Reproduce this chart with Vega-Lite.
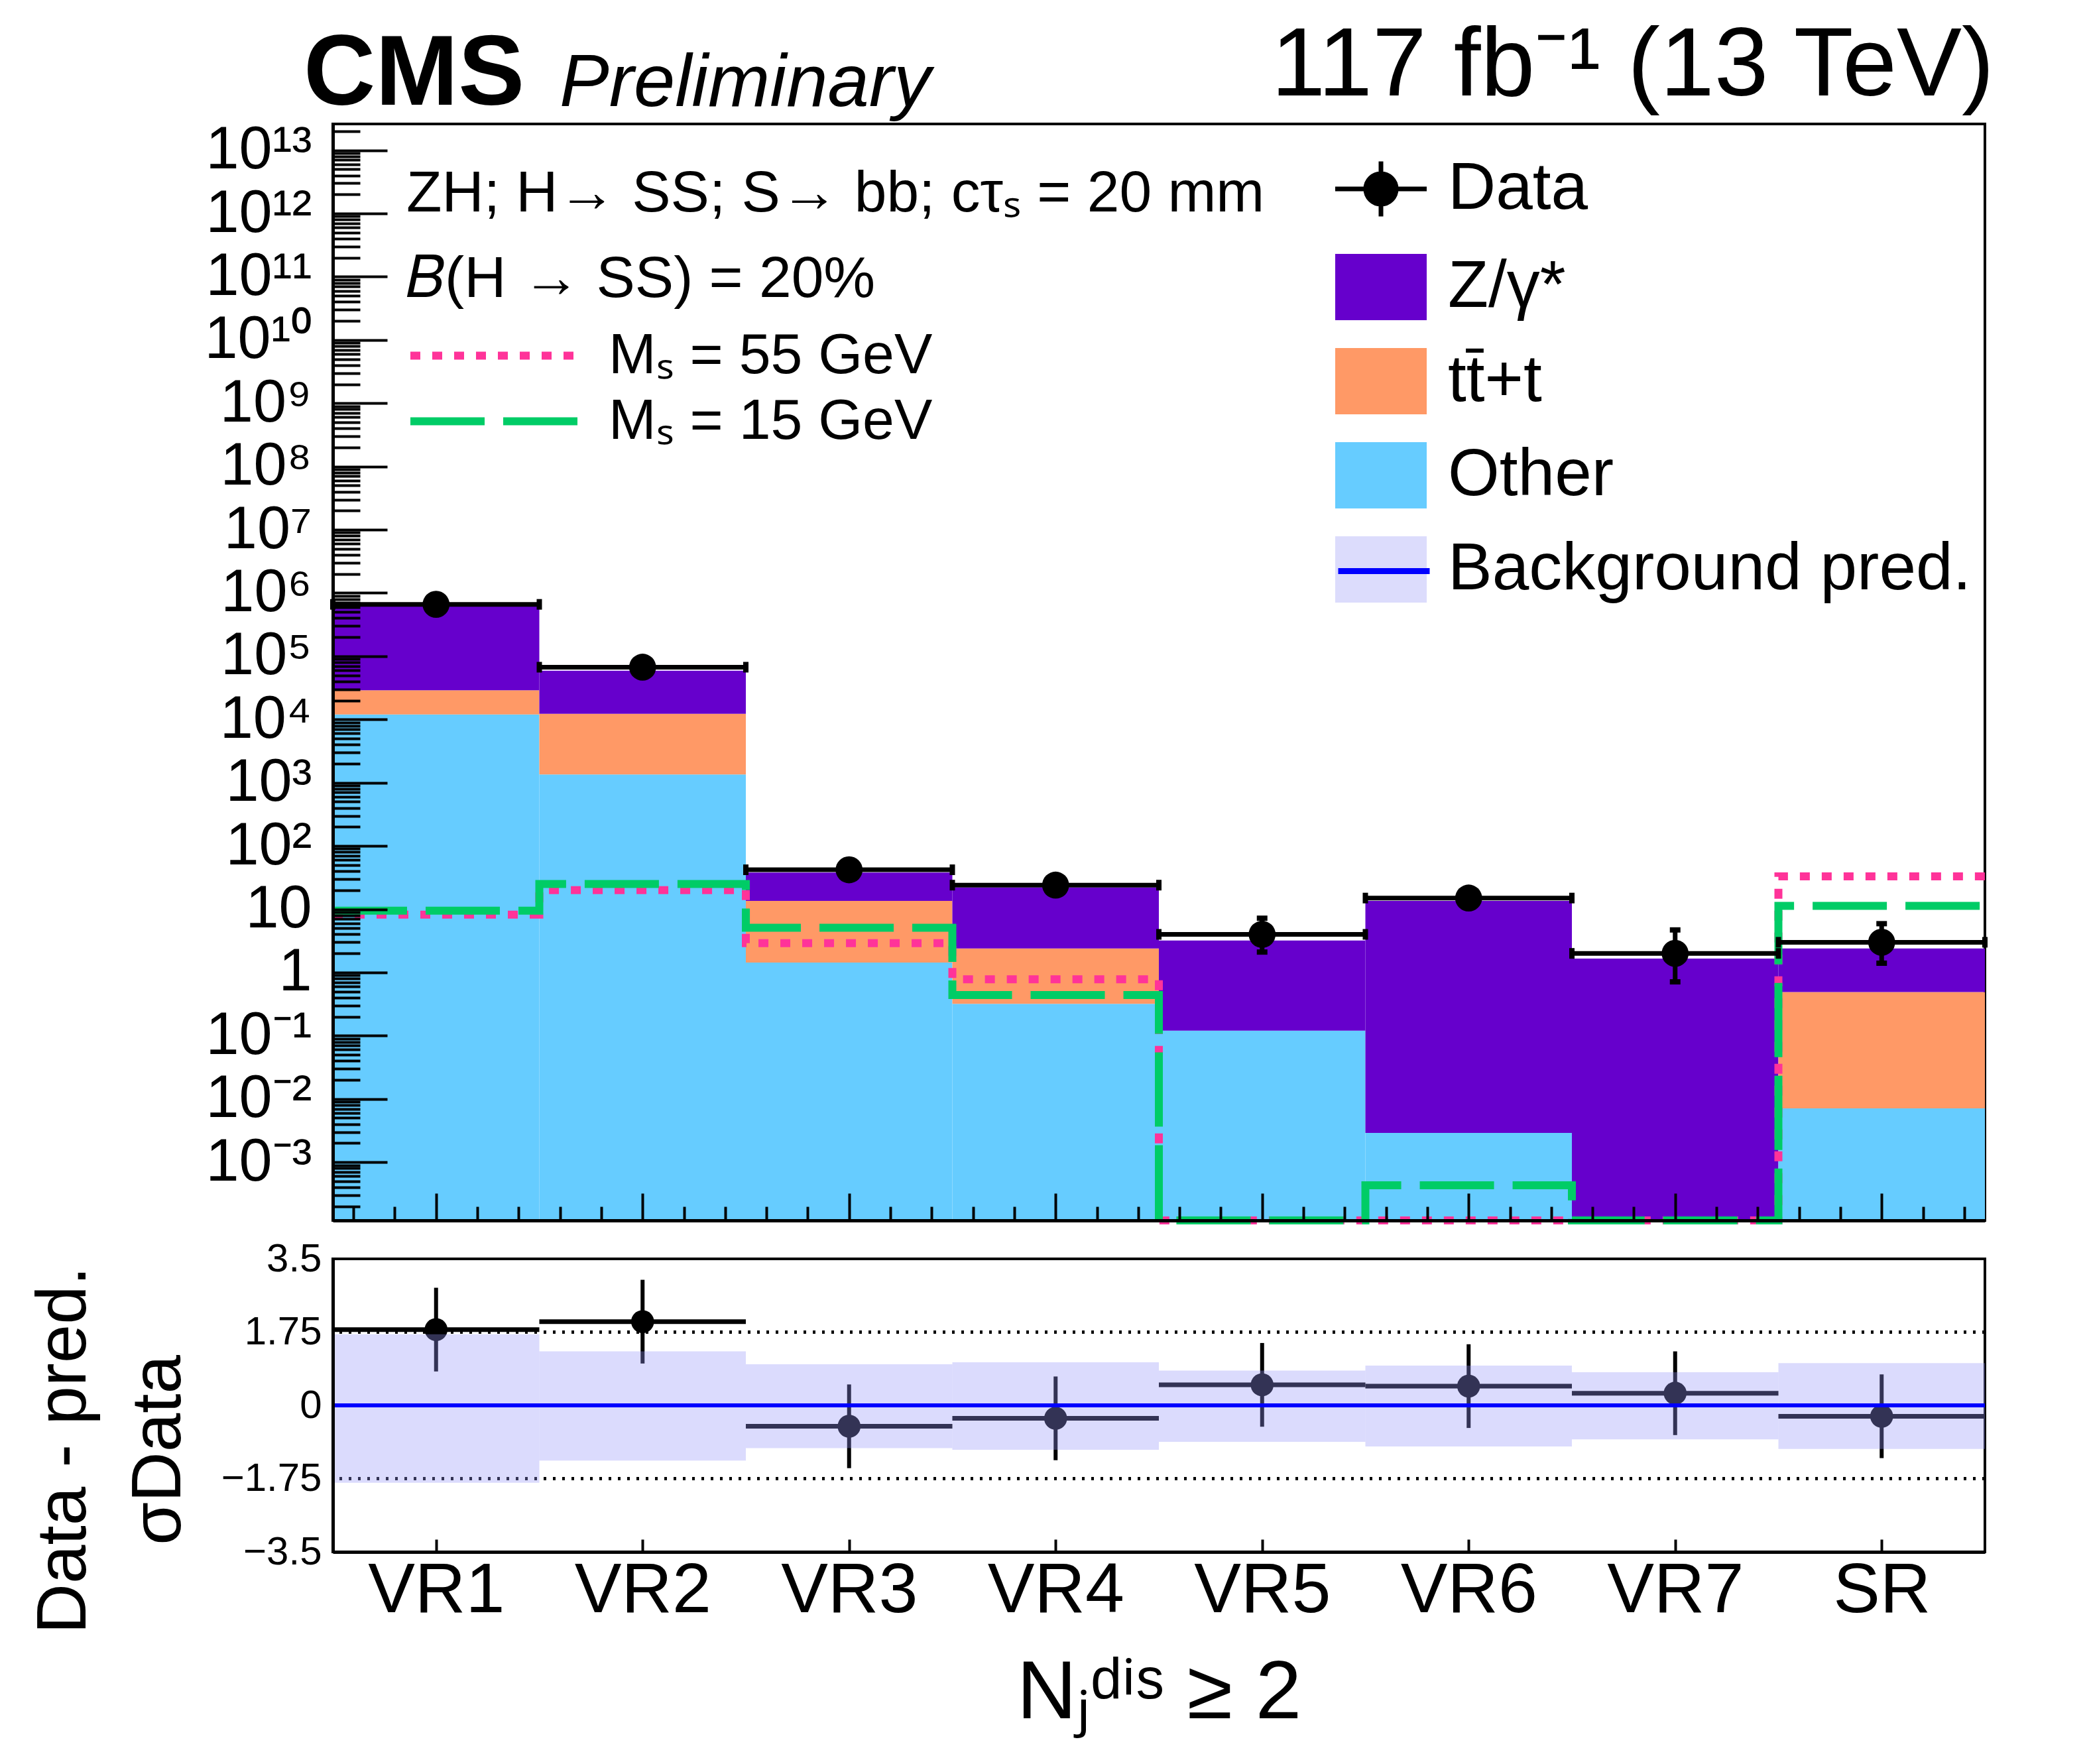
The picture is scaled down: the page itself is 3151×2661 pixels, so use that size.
{
  "$schema": "https://vega.github.io/schema/vega-lite/v6.json",
  "autosize": {"type": "none"},
  "padding": {"left": 502, "top": 187, "right": 2649, "bottom": 2474},
  "background": "white",
  "config": {
    "font": "Liberation Sans",
    "view": {"stroke": "black", "strokeWidth": 4},
    "axis": {"domainColor": "black", "domainWidth": 5, "tickColor": "black", "tickWidth": 4, "labelColor": "black", "titleColor": "black", "grid": false, "zindex": 2, "labelFont": "Liberation Sans", "titleFont": "Liberation Sans", "titleFontWeight": "normal", "labelLimit": 1000, "titleLimit": 3000},
    "legend": {"labelColor": "black", "titleColor": "black", "labelFont": "Liberation Sans", "titleFont": "Liberation Sans", "titleFontWeight": "normal", "padding": 0, "labelLimit": 3000, "titleLimit": 3000, "symbolOpacity": 1},
    "title": {"color": "black", "font": "Liberation Sans"}
  },
  "datasets": {
    "bins": [
      {"bin": "VR1", "b0": 0, "b1": 1, "bc": 0.5, "data": 660000, "dlo": 659200, "dhi": 660800, "r": 1.81, "rlo": 0.81, "rhi": 2.81, "blo": -1.85, "bhi": 1.70},
      {"bin": "VR2", "b0": 1, "b1": 2, "bc": 1.5, "data": 67000, "dlo": 66740, "dhi": 67260, "r": 2.00, "rlo": 1.00, "rhi": 3.00, "blo": -1.32, "bhi": 1.29},
      {"bin": "VR3", "b0": 2, "b1": 3, "bc": 2.5, "data": 42, "dlo": 35.6, "dhi": 48.6, "r": -0.50, "rlo": -1.50, "rhi": 0.50, "blo": -1.02, "bhi": 0.98},
      {"bin": "VR4", "b0": 3, "b1": 4, "bc": 3.5, "data": 24, "dlo": 19.2, "dhi": 29.1, "r": -0.31, "rlo": -1.31, "rhi": 0.69, "blo": -1.06, "bhi": 1.03},
      {"bin": "VR5", "b0": 4, "b1": 5, "bc": 4.5, "data": 4, "dlo": 2.1, "dhi": 7.2, "r": 0.49, "rlo": -0.51, "rhi": 1.49, "blo": -0.87, "bhi": 0.83},
      {"bin": "VR6", "b0": 5, "b1": 6, "bc": 5.5, "data": 15, "dlo": 11.2, "dhi": 19.8, "r": 0.46, "rlo": -0.54, "rhi": 1.46, "blo": -0.98, "bhi": 0.95},
      {"bin": "VR7", "b0": 6, "b1": 7, "bc": 6.5, "data": 2, "dlo": 0.71, "dhi": 4.7, "r": 0.29, "rlo": -0.71, "rhi": 1.29, "blo": -0.81, "bhi": 0.79},
      {"bin": "SR", "b0": 7, "b1": 8, "bc": 7.5, "data": 3, "dlo": 1.4, "dhi": 5.9, "r": -0.26, "rlo": -1.26, "rhi": 0.74, "blo": -1.04, "bhi": 1.01}
    ],
    "stack": [
      {"b0": 0, "b1": 1, "comp": "Other", "lo": 0.00012, "hi": 12000},
      {"b0": 0, "b1": 1, "comp": "tt̄+t", "lo": 12000, "hi": 29000},
      {"b0": 0, "b1": 1, "comp": "Z/γ*", "lo": 29000, "hi": 610000},
      {"b0": 1, "b1": 2, "comp": "Other", "lo": 0.00012, "hi": 1350},
      {"b0": 1, "b1": 2, "comp": "tt̄+t", "lo": 1350, "hi": 12300},
      {"b0": 1, "b1": 2, "comp": "Z/γ*", "lo": 12300, "hi": 59000},
      {"b0": 2, "b1": 3, "comp": "Other", "lo": 0.00012, "hi": 1.43},
      {"b0": 2, "b1": 3, "comp": "tt̄+t", "lo": 1.43, "hi": 13.5},
      {"b0": 2, "b1": 3, "comp": "Z/γ*", "lo": 13.5, "hi": 38},
      {"b0": 3, "b1": 4, "comp": "Other", "lo": 0.00012, "hi": 0.32},
      {"b0": 3, "b1": 4, "comp": "tt̄+t", "lo": 0.32, "hi": 2.4},
      {"b0": 3, "b1": 4, "comp": "Z/γ*", "lo": 2.4, "hi": 22},
      {"b0": 4, "b1": 5, "comp": "Other", "lo": 0.00012, "hi": 0.12},
      {"b0": 4, "b1": 5, "comp": "Z/γ*", "lo": 0.12, "hi": 3.2},
      {"b0": 5, "b1": 6, "comp": "Other", "lo": 0.00012, "hi": 0.0029},
      {"b0": 5, "b1": 6, "comp": "Z/γ*", "lo": 0.0029, "hi": 13.5},
      {"b0": 6, "b1": 7, "comp": "Z/γ*", "lo": 0.00012, "hi": 1.66},
      {"b0": 7, "b1": 8, "comp": "Other", "lo": 0.00012, "hi": 0.0071},
      {"b0": 7, "b1": 8, "comp": "tt̄+t", "lo": 0.0071, "hi": 0.49},
      {"b0": 7, "b1": 8, "comp": "Z/γ*", "lo": 0.49, "hi": 2.4}
    ],
    "sig": [
      {"sig": "Mₛ = 55 GeV", "edge": 0, "v": 8.2},
      {"sig": "Mₛ = 55 GeV", "edge": 1, "v": 20},
      {"sig": "Mₛ = 55 GeV", "edge": 2, "v": 2.9},
      {"sig": "Mₛ = 55 GeV", "edge": 3, "v": 0.78},
      {"sig": "Mₛ = 55 GeV", "edge": 4, "v": 0.00012},
      {"sig": "Mₛ = 55 GeV", "edge": 5, "v": 0.00012},
      {"sig": "Mₛ = 55 GeV", "edge": 6, "v": 0.00012},
      {"sig": "Mₛ = 55 GeV", "edge": 7, "v": 33},
      {"sig": "Mₛ = 55 GeV", "edge": 8, "v": 33},
      {"sig": "Mₛ = 15 GeV", "edge": 0, "v": 9.5},
      {"sig": "Mₛ = 15 GeV", "edge": 1, "v": 25},
      {"sig": "Mₛ = 15 GeV", "edge": 2, "v": 5.1},
      {"sig": "Mₛ = 15 GeV", "edge": 3, "v": 0.44},
      {"sig": "Mₛ = 15 GeV", "edge": 4, "v": 0.00012},
      {"sig": "Mₛ = 15 GeV", "edge": 5, "v": 0.00043},
      {"sig": "Mₛ = 15 GeV", "edge": 6, "v": 0.00012},
      {"sig": "Mₛ = 15 GeV", "edge": 7, "v": 11.3},
      {"sig": "Mₛ = 15 GeV", "edge": 8, "v": 11.3}
    ]
  },
  "title": {"text": "CMS", "anchor": "start", "frame": "group", "fontSize": 150, "fontWeight": "bold", "dx": -44, "offset": -284, "baseline": "alphabetic"},
  "bounds": "flush",
  "spacing": 58,
  "resolve": {"scale": {"x": "independent", "y": "independent"}},
  "vconcat": [
    {
      "title": {"text": "117 fb⁻¹ (13 TeV)", "anchor": "end", "frame": "group", "fontSize": 147, "fontWeight": "normal", "dx": 14, "offset": -138, "baseline": "alphabetic"},
      "width": 2492,
      "height": 1654,
      "layer": [
        {
          "data": {"name": "stack"},
          "mark": {"type": "rect"},
          "encoding": {
            "x": {"field": "b0", "type": "quantitative", "scale": {"domain": [0, 8], "nice": false, "zero": false},
              "axis": {"title": null, "labels": false, "domain": true, "ticks": true, "zindex": 2,
                "values": [0.1, 0.3, 0.5, 0.7, 0.9, 1.1, 1.3, 1.5, 1.7, 1.9, 2.1, 2.3, 2.5, 2.7, 2.9, 3.1, 3.3, 3.5, 3.7, 3.9, 4.1, 4.3, 4.5, 4.7, 4.9, 5.1, 5.3, 5.5, 5.7, 5.9, 6.1, 6.3, 6.5, 6.7, 6.9, 7.1, 7.3, 7.5, 7.7, 7.9],
                "tickSize": {"condition": {"test": "abs(datum.value - floor(datum.value) - 0.5) < 0.01", "value": -41}, "value": -21}}},
            "x2": {"field": "b1"},
            "y": {"field": "hi", "type": "quantitative", "scale": {"type": "log", "domain": [0.00012, 2.6e13], "nice": false},
              "axis": {"title": null, "labelFontSize": 90, "labelPadding": 114, "labelOverlap": false, "labelBaseline": "middle", "zindex": 2,
                "values": [2e-4, 3e-4, 4e-4, 5e-4, 6e-4, 7e-4, 8e-4, 9e-4,
                  1e-3, 2e-3, 3e-3, 4e-3, 5e-3, 6e-3, 7e-3, 8e-3, 9e-3,
                  1e-2, 2e-2, 3e-2, 4e-2, 5e-2, 6e-2, 7e-2, 8e-2, 9e-2,
                  1e-1, 2e-1, 3e-1, 4e-1, 5e-1, 6e-1, 7e-1, 8e-1, 9e-1,
                  1, 2, 3, 4, 5, 6, 7, 8, 9,
                  1e1, 2e1, 3e1, 4e1, 5e1, 6e1, 7e1, 8e1, 9e1,
                  1e2, 2e2, 3e2, 4e2, 5e2, 6e2, 7e2, 8e2, 9e2,
                  1e3, 2e3, 3e3, 4e3, 5e3, 6e3, 7e3, 8e3, 9e3,
                  1e4, 2e4, 3e4, 4e4, 5e4, 6e4, 7e4, 8e4, 9e4,
                  1e5, 2e5, 3e5, 4e5, 5e5, 6e5, 7e5, 8e5, 9e5,
                  1e6, 2e6, 3e6, 4e6, 5e6, 6e6, 7e6, 8e6, 9e6,
                  1e7, 2e7, 3e7, 4e7, 5e7, 6e7, 7e7, 8e7, 9e7,
                  1e8, 2e8, 3e8, 4e8, 5e8, 6e8, 7e8, 8e8, 9e8,
                  1e9, 2e9, 3e9, 4e9, 5e9, 6e9, 7e9, 8e9, 9e9,
                  1e10, 2e10, 3e10, 4e10, 5e10, 6e10, 7e10, 8e10, 9e10,
                  1e11, 2e11, 3e11, 4e11, 5e11, 6e11, 7e11, 8e11, 9e11,
                  1e12, 2e12, 3e12, 4e12, 5e12, 6e12, 7e12, 8e12, 9e12,
                  1e13, 2e13],
                "labelExpr": "abs(log(datum.value)/LN10 - round(log(datum.value)/LN10)) < 0.001 ? ['10⁻⁴','10⁻³','10⁻²','10⁻¹','1','10','10²','10³','10⁴','10⁵','10⁶','10⁷','10⁸','10⁹','10¹⁰','10¹¹','10¹²','10¹³'][round(log(datum.value)/LN10)+4] : ''",
                "tickSize": {"condition": {"test": "abs(log(datum.value)/LN10 - round(log(datum.value)/LN10)) < 0.001", "value": -82}, "value": -41}}},
            "y2": {"field": "lo"},
            "fill": {"field": "comp", "type": "nominal",
              "scale": {"domain": ["Data", "Z/γ*", "tt̄+t", "Other", "Background pred."], "range": ["#000000", "#6600cc", "#ff9966", "#66ccff", "#dcdcfc"]},
              "legend": {"title": null, "orient": "none", "legendX": 1512, "legendY": 48, "direction": "vertical",
                "symbolType": "M-1,-1H1.76V1H-1Z", "symbolSize": 10000, "labelFontSize": 100, "labelOffset": 70, "rowPadding": 42, "symbolStrokeWidth": 0,
                "encode": {"symbols": {"update": {
                  "shape": {"signal": "datum.label === 'Data' ? 'M-1,0H1.76M0.38,-0.83V0.83M0.84,0A0.46,0.46 0 1 1 -0.08,0A0.46,0.46 0 1 1 0.84,0Z' : 'M-1,-1H1.76V1H-1Z'"},
                  "stroke": {"value": "black"},
                  "strokeWidth": {"signal": "datum.label === 'Data' ? 7 : 0"}}}}}}
          }
        },
        {
          "data": {"name": "sig"},
          "mark": {"type": "line", "interpolate": "step-after", "strokeWidth": 12, "strokeCap": "butt"},
          "encoding": {
            "x": {"field": "edge", "type": "quantitative"},
            "y": {"field": "v", "type": "quantitative"},
            "stroke": {"field": "sig", "type": "nominal",
              "scale": {"domain": ["Mₛ = 55 GeV", "Mₛ = 15 GeV"], "range": ["#ff3399", "#00cc66"]},
              "legend": {"orient": "none", "legendX": 111, "legendY": 63, "direction": "vertical",
                "title": ["ZH; H→ SS; S→ bb; cτₛ = 20 mm", "𝐵(H → SS) = 20%"], "titleFontSize": 87.5, "titleLineHeight": 129, "titlePadding": 14,
                "symbolType": "M-1,0H4.1", "symbolSize": 10000, "symbolStrokeWidth": 12, "labelFontSize": 86, "labelOffset": 193, "rowPadding": 0}},
            "strokeDash": {"field": "sig", "type": "nominal",
              "scale": {"domain": ["Mₛ = 55 GeV", "Mₛ = 15 GeV"], "range": [[15, 18], [112, 28]]},
              "legend": {"orient": "none", "legendX": 111, "legendY": 63, "direction": "vertical",
                "title": ["ZH; H→ SS; S→ bb; cτₛ = 20 mm", "𝐵(H → SS) = 20%"], "titleFontSize": 87.5, "titleLineHeight": 129, "titlePadding": 14,
                "symbolType": "M-1,0H4.1", "symbolSize": 10000, "symbolStrokeWidth": 12, "labelFontSize": 86, "labelOffset": 193, "rowPadding": 0}}
          }
        },
        {
          "data": {"name": "bins"},
          "mark": {"type": "rule", "strokeWidth": 7, "color": "black"},
          "encoding": {
            "x": {"field": "b0", "type": "quantitative"},
            "x2": {"field": "b1"},
            "y": {"field": "data", "type": "quantitative"}
          }
        },
        {
          "data": {"name": "bins"},
          "mark": {"type": "tick", "orient": "vertical", "size": 16, "thickness": 8, "color": "black", "opacity": 1},
          "encoding": {
            "x": {"field": "b0", "type": "quantitative"},
            "y": {"field": "data", "type": "quantitative"}
          }
        },
        {
          "data": {"name": "bins"},
          "mark": {"type": "tick", "orient": "vertical", "size": 16, "thickness": 8, "color": "black", "opacity": 1},
          "encoding": {
            "x": {"field": "b1", "type": "quantitative"},
            "y": {"field": "data", "type": "quantitative"}
          }
        },
        {
          "data": {"name": "bins"},
          "mark": {"type": "rule", "strokeWidth": 7, "color": "black"},
          "encoding": {
            "x": {"field": "bc", "type": "quantitative"},
            "y": {"field": "dlo", "type": "quantitative"},
            "y2": {"field": "dhi"}
          }
        },
        {
          "data": {"name": "bins"},
          "mark": {"type": "tick", "orient": "horizontal", "size": 16, "thickness": 8, "color": "black", "opacity": 1},
          "encoding": {
            "x": {"field": "bc", "type": "quantitative"},
            "y": {"field": "dlo", "type": "quantitative"}
          }
        },
        {
          "data": {"name": "bins"},
          "mark": {"type": "tick", "orient": "horizontal", "size": 16, "thickness": 8, "color": "black", "opacity": 1},
          "encoding": {
            "x": {"field": "bc", "type": "quantitative"},
            "y": {"field": "dhi", "type": "quantitative"}
          }
        },
        {
          "data": {"name": "bins"},
          "mark": {"type": "point", "filled": true, "size": 1660, "color": "black", "opacity": 1},
          "encoding": {
            "x": {"field": "bc", "type": "quantitative"},
            "y": {"field": "data", "type": "quantitative"}
          }
        }
      ]
    },
    {
      "title": {"text": "Preliminary", "anchor": "start", "frame": "group", "fontSize": 112, "fontStyle": "italic", "fontWeight": "normal", "dx": 342, "offset": 1597, "baseline": "alphabetic"},
      "width": 2492,
      "height": 442,
      "data": {"name": "bins"},
      "layer": [
        {
          "mark": {"type": "rule", "strokeWidth": 4, "strokeDash": [4, 10], "color": "black"},
          "encoding": {
            "y": {"datum": 1.75, "type": "quantitative", "scale": {"domain": [-3.5, 3.5], "nice": false, "zero": false},
              "axis": {"title": ["Data - pred.", "σData"], "titleFontSize": 105, "titleLineHeight": 143, "titlePadding": 40, "titleY": 288, "zindex": 2,
                "values": [-3.5, -1.75, 0, 1.75, 3.5], "ticks": false, "labelPadding": 17, "labelFontSize": 60,
                "labelExpr": "replace(toString(datum.value), '-', '−')"}}
          }
        },
        {
          "mark": {"type": "rule", "strokeWidth": 4, "strokeDash": [4, 10], "color": "black"},
          "encoding": {"y": {"datum": -1.75, "type": "quantitative"}}
        },
        {
          "mark": {"type": "rule", "strokeWidth": 6, "color": "black"},
          "encoding": {
            "x": {"field": "bc", "type": "quantitative", "scale": {"domain": [0, 8], "nice": false, "zero": false},
              "axis": {"title": "Nⱼᵈⁱˢ ≥ 2", "titleFontSize": 125, "titlePadding": 40, "values": [0.5, 1.5, 2.5, 3.5, 4.5, 5.5, 6.5, 7.5], "zindex": 2, "ticks": true,
                "tickSize": -19, "labelPadding": 25, "labelFontSize": 106, "labelFlush": false,
                "labelExpr": "['VR1','VR2','VR3','VR4','VR5','VR6','VR7','SR'][floor(datum.value)]"}},
            "y": {"field": "rlo", "type": "quantitative"},
            "y2": {"field": "rhi"}
          }
        },
        {
          "mark": {"type": "rule", "strokeWidth": 7, "color": "black"},
          "encoding": {
            "x": {"field": "b0", "type": "quantitative"},
            "x2": {"field": "b1"},
            "y": {"field": "r", "type": "quantitative"}
          }
        },
        {
          "mark": {"type": "point", "filled": true, "size": 1200, "color": "black", "opacity": 1},
          "encoding": {
            "x": {"field": "bc", "type": "quantitative"},
            "y": {"field": "r", "type": "quantitative"}
          }
        },
        {
          "mark": {"type": "rect", "color": "#9696fa", "opacity": 0.34},
          "encoding": {
            "x": {"field": "b0", "type": "quantitative"},
            "x2": {"field": "b1"},
            "y": {"field": "blo", "type": "quantitative"},
            "y2": {"field": "bhi"}
          }
        },
        {
          "mark": {"type": "rule", "strokeWidth": 6},
          "encoding": {
            "y": {"datum": 0, "type": "quantitative"},
            "color": {"datum": "Background pred.", "type": "nominal",
              "scale": {"domain": ["Background pred."], "range": ["#0000ff"]},
              "legend": {"title": null, "orient": "none", "legendX": 1512, "legendY": 620, "zindex": 2,
                "symbolType": "M-1,0H1.76", "symbolSize": 10000, "symbolStrokeWidth": 9, "labelFontSize": 100, "labelOffset": 70, "labelExpr": "''"}}
          }
        }
      ]
    }
  ]
}
